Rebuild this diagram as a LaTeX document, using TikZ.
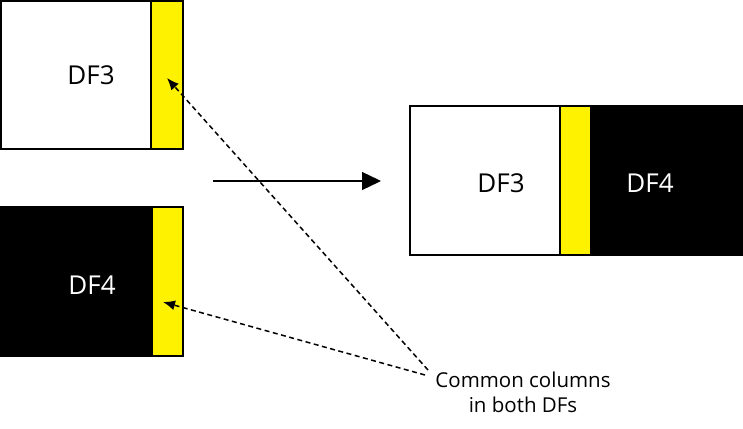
\documentclass[tikz,border=0pt]{standalone}
\usepackage{fontspec}
\setmainfont{Open Sans}
\usetikzlibrary{arrows.meta}
\begin{document}
\begin{tikzpicture}[x=1pt,y=-1pt,
  wbox/.style={draw=black,line width=1.2pt,fill=white},
  bbox/.style={draw=black,line width=1.2pt,fill=black},
  ybox/.style={draw=black,line width=1.2pt,fill=yellow},
  lbl/.style={font=\fontsize{26}{30}\selectfont},
  dasharrow/.style={dash pattern=on 5pt off 3.5pt,line width=1.5pt,-{Latex[length=12pt,width=10pt]}},
  mainarrow/.style={line width=1.3pt,-{Triangle[length=19pt,width=18pt]}}]
\useasboundingbox (0,0) rectangle (743,428);
% top left DF3
\draw[wbox] (1,1) rectangle (151,149);
\draw[ybox] (151,1) rectangle (183,149);
\node[lbl] (df3a) at (91,75) {DF3};
\coordinate (y1) at (167,78);
% bottom left DF4
\draw[bbox] (-1,207) rectangle (152,356);
\draw[ybox] (152,207) rectangle (183,356);
\node[lbl,text=white] (df4a) at (92,285) {DF4};
\coordinate (y2) at (163,302);
% right merged
\draw[wbox] (410,106) rectangle (560,255);
\draw[ybox] (560,106) rectangle (591,255);
\draw[bbox] (591,106) rectangle (745,255);
\node[lbl] (df3b) at (501,183) {DF3};
\node[lbl,text=white] (df4b) at (650,183) {DF4};
% main arrow
\coordinate (a1) at (213,181);
\coordinate (a2) at (381,181);
\draw[mainarrow] (a1) -- (a2);
% label
\node[font=\fontsize{20.5}{25}\selectfont,align=center] (note) at (523,392) {Common columns\\in both DFs};
\coordinate (n1) at (428,370);
\coordinate (n2) at (425,375);
\draw[dasharrow] (n1) -- (y1);
\draw[dasharrow] (n2) -- (y2);
\end{tikzpicture}
\end{document}
